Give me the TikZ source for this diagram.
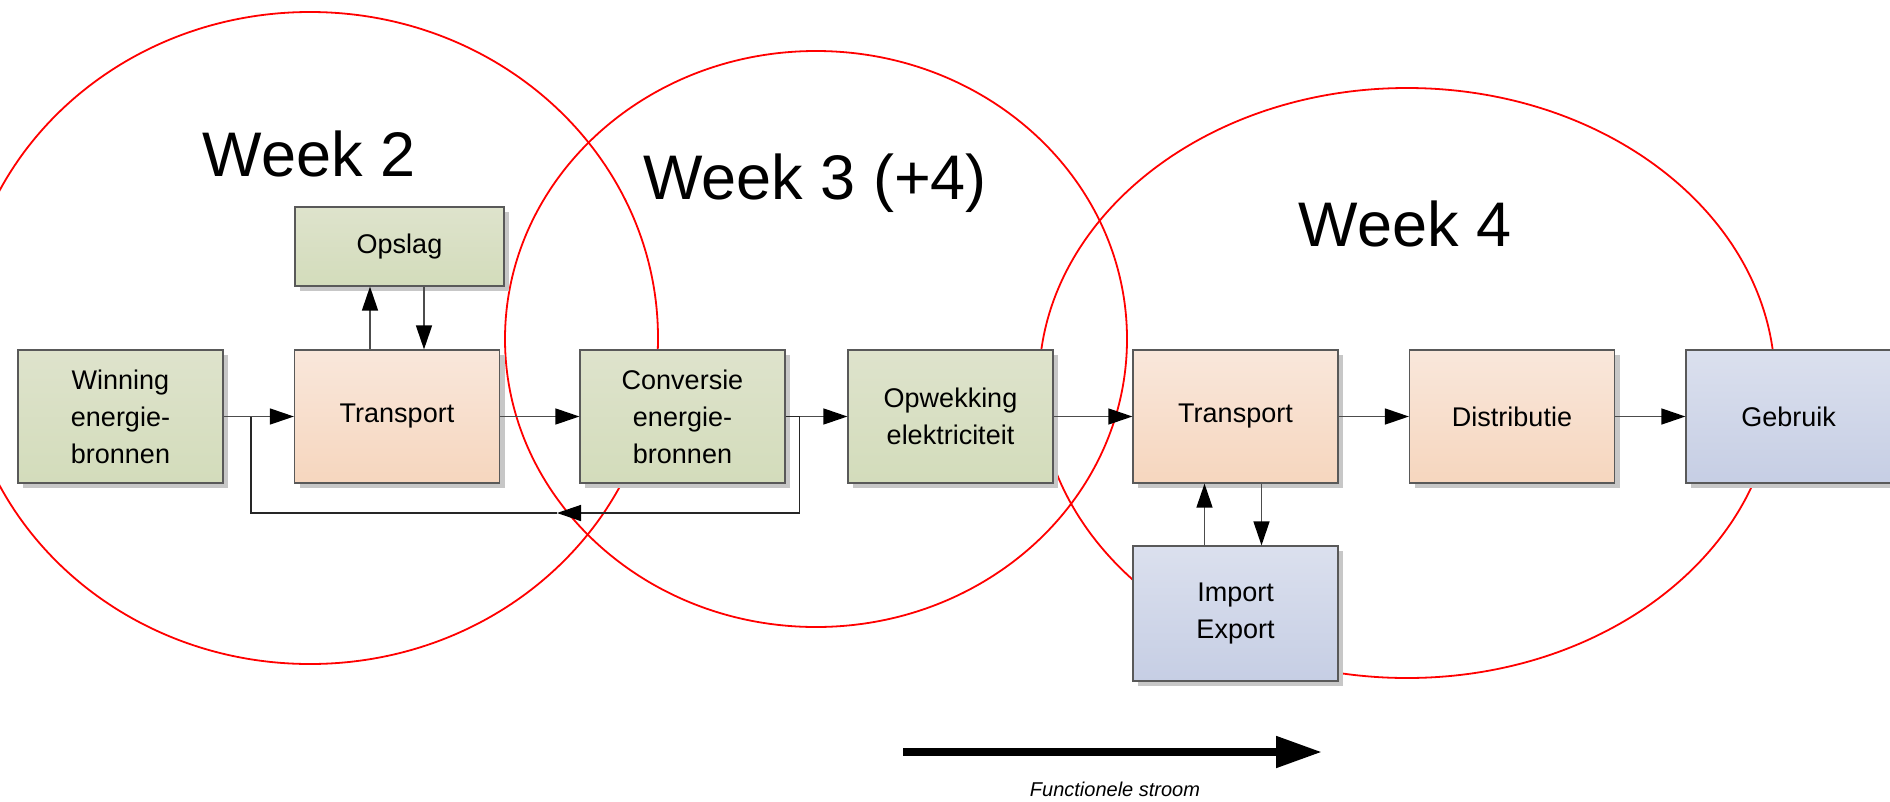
\documentclass[tikz,border=0pt]{standalone}
\usepackage{fontspec}
\setmainfont{Liberation Sans}
\usepackage{xcolor}
\usepackage{tikz}
\usetikzlibrary{arrows.meta, positioning, calc, shadows}

\definecolor{grnTop}{RGB}{222,227,204}
\definecolor{grnBot}{RGB}{211,220,187}
\definecolor{orgTop}{RGB}{249,231,219}
\definecolor{orgBot}{RGB}{246,214,190}
\definecolor{bluTop}{RGB}{219,224,238}
\definecolor{bluBot}{RGB}{198,206,228}

\begin{document}
\begin{tikzpicture}[
    x=1pt, y=-1pt,
    >={Triangle[length=24pt,width=16pt,color=black]},
    arrow/.style={->,line width=1.4pt,black!70},
    link/.style={line width=1.4pt,black!85},
    week/.style={draw=red,line width=1.8pt},
    weeklabel/.style={font=\fontsize{63}{70}\selectfont},
    block/.style={rectangle,draw=black!65,line width=1.2pt,
        minimum width=205pt,minimum height=133pt,align=center,
        font=\fontsize{27}{37}\selectfont,
        drop shadow={shadow xshift=5pt,shadow yshift=-5pt,fill=black!22,opacity=1}},
    source/.style={block,top color=grnTop,bottom color=grnBot},
    carrier/.style={block,top color=orgTop,bottom color=orgBot},
    consumer/.style={block,top color=bluTop,bottom color=bluBot}
]
\useasboundingbox (0,0) rectangle (1890,801);

%--------------------------------------------------------------------
% Week areas
%--------------------------------------------------------------------
\draw[week] (310,338) ellipse [x radius=348, y radius=326];
\draw[week] (816,339) ellipse [x radius=311, y radius=288];
\draw[week] (1407,383) ellipse [x radius=368, y radius=295];

\node[weeklabel] (w2) at (309,154) {Week 2};
\node[weeklabel] (w3) at (815,183) {Week 3 (+4)};
\node[weeklabel] (w4) at (1405,224) {Week 4};

%--------------------------------------------------------------------
% Chain blocks
%--------------------------------------------------------------------
\node[source]  (win)    at (120.5,416.5) {Winning\\energie-\\bronnen};
\node[carrier] (tr1)    at (397,416.5)   {Transport};
\node[source,minimum width=209pt,minimum height=79pt]
               (opslag) at (399.5,246.5) {Opslag};
\node[source]  (conv)   at (682.5,416.5) {Conversie\\energie-\\bronnen};
\node[source]  (opw)    at (950.5,416.5) {Opwekking\\elektriciteit};
\node[carrier] (tr2)    at (1235.5,416.5) {Transport};
\node[carrier] (dist)   at (1512,416.5)  {Distributie};
\node[consumer] (gebr)  at (1788.5,416.5) {Gebruik};
\node[consumer,minimum height=135pt]
               (impexp) at (1235.5,613.5) {Import\\Export};

%--------------------------------------------------------------------
% Flow connectors
%--------------------------------------------------------------------
\draw[arrow] (win) -- (tr1);
\draw[arrow] (tr1) -- (conv);
\draw[arrow] (conv) -- (opw);
\draw[arrow] (opw) -- (tr2);
\draw[arrow] (tr2) -- (dist);
\draw[arrow] (dist) -- (gebr);

% storage
\draw[arrow] ([xshift=-27pt]tr1.north) -- ([xshift=-27pt]tr1.north |- opslag.south);
\draw[arrow] ([xshift=27pt]tr1.north |- opslag.south) -- ([xshift=27pt]tr1.north);

% import / export
\draw[arrow] ([xshift=-31pt]impexp.north) -- ([xshift=-31pt]impexp.north |- tr2.south);
\draw[arrow] ([xshift=26pt]tr2.south) -- ([xshift=26pt]tr2.south |- impexp.north);

% feedback loop
\coordinate (fbtip)  at (557,513);
\coordinate (fbjoin) at (251,416.5);
\draw[arrow,black!85] (conv.east) -- ++(14,0) |- (fbtip);
\draw[link] (fbtip) -| (fbjoin);

%--------------------------------------------------------------------
% Functional flow
%--------------------------------------------------------------------
\coordinate (flowA) at (903,752);
\coordinate (flowB) at (1322,752);
\draw[line width=8pt,-{Triangle[length=46pt,width=30pt]}] (flowA) -- (flowB);
\node[font=\fontsize{20}{23}\selectfont\itshape] (flowlbl) at (1115,789) {Functionele stroom};

\end{tikzpicture}
\end{document}
